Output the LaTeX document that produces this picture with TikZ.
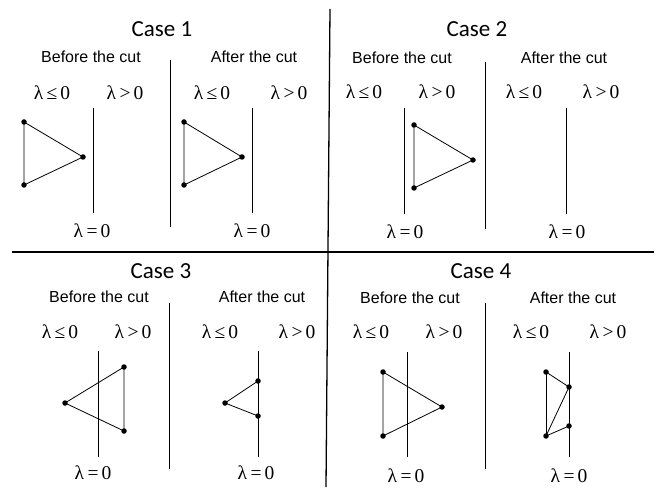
\documentclass[tikz,border=0pt]{standalone}
\usepackage{fontspec}
\newfontfamily\casefont{Carlito}
\newfontfamily\headfont{Liberation Sans}
\newfontfamily\lamfont{Liberation Serif}
\newcommand{\LE}{λ\hspace{3.5pt}≤\hspace{3pt}0}
\newcommand{\GT}{λ\hspace{3.5pt}>\hspace{3pt}0}
\newcommand{\EQ}{λ\hspace{3.5pt}=\hspace{3pt}0}
\begin{document}
\begin{tikzpicture}[x=1pt,y=-1pt,
  casetitle/.style={anchor=base,inner sep=0pt,font=\casefont\fontsize{23}{26}\selectfont},
  head/.style={anchor=base,inner sep=0pt,font=\headfont\fontsize{16}{18}\selectfont},
  lam/.style={anchor=base,inner sep=0pt,font=\lamfont\fontsize{19.5}{22}\selectfont},
  dot/.style={circle,fill=black,inner sep=0pt,minimum size=5.5pt},
  edge/.style={line width=0.8pt},
  zero/.style={line width=0.8pt},
  divider/.style={line width=0.8pt},
  main/.style={line width=1.3pt}]
\useasboundingbox (0,0) rectangle (656,489);
% main dividers
\coordinate (vt) at (330,9); \coordinate (vb) at (326,487);
\coordinate (hl) at (12,252); \coordinate (hr) at (654,252);
\draw[main] (vt) -- (vb);
\draw[main] (hl) -- (hr);

% ================= Case 1
\node[casetitle] (t1) at (162,37) {Case 1};
\node[head] (b1) at (91,63) {Before the cut};
\node[head] (a1) at (254,63) {After the cut};
\coordinate (d1t) at (170,60); \coordinate (d1b) at (170,227);
\draw[divider] (d1t) -- (d1b);
\node[lam] (l1a) at (52,100) {\LE};
\node[lam] (g1a) at (125,100) {\GT};
\node[lam] (e1a) at (92,238) {\EQ};
\coordinate (z1at) at (93,108); \coordinate (z1ab) at (93,213);
\draw[zero] (z1at) -- (z1ab);
\node[dot] (p1a) at (24,122) {};
\node[dot] (q1a) at (24,185) {};
\node[dot] (r1a) at (83,157) {};
\draw[edge] (p1a.center) -- (q1a.center) -- (r1a.center) -- cycle;
\node[lam] (l1b) at (212,100) {\LE};
\node[lam] (g1b) at (289,100) {\GT};
\node[lam] (e1b) at (252,238) {\EQ};
\coordinate (z1bt) at (252,108); \coordinate (z1bb) at (252,213);
\draw[zero] (z1bt) -- (z1bb);
\node[dot] (p1b) at (184,122) {};
\node[dot] (q1b) at (184,185) {};
\node[dot] (r1b) at (242,157) {};
\draw[edge] (p1b.center) -- (q1b.center) -- (r1b.center) -- cycle;

% ================= Case 2
\node[casetitle] (t2) at (477,37) {Case 2};
\node[head] (b2) at (402,64) {Before the cut};
\node[head] (a2) at (564,64) {After the cut};
\coordinate (d2t) at (485,62); \coordinate (d2b) at (485,229);
\draw[divider] (d2t) -- (d2b);
\node[lam] (l2a) at (364,99) {\LE};
\node[lam] (g2a) at (437,99) {\GT};
\node[lam] (e2a) at (405,239) {\EQ};
\coordinate (z2at) at (404,108); \coordinate (z2ab) at (404,214);
\draw[zero] (z2at) -- (z2ab);
\node[dot] (p2a) at (414,125) {};
\node[dot] (q2a) at (414,188) {};
\node[dot] (r2a) at (473,160) {};
\draw[edge] (p2a.center) -- (q2a.center) -- (r2a.center) -- cycle;
\node[lam] (l2b) at (524,99) {\LE};
\node[lam] (g2b) at (601,99) {\GT};
\node[lam] (e2b) at (567,239) {\EQ};
\coordinate (z2bt) at (566,108); \coordinate (z2bb) at (566,214);
\draw[zero] (z2bt) -- (z2bb);

% ================= Case 3
\node[casetitle] (t3) at (161,278) {Case 3};
\node[head] (b3) at (99,302) {Before the cut};
\node[head] (a3) at (262,302) {After the cut};
\coordinate (d3t) at (169,303); \coordinate (d3b) at (169,469);
\draw[divider] (d3t) -- (d3b);
\node[lam] (l3a) at (60,338) {\LE};
\node[lam] (g3a) at (133,338) {\GT};
\node[lam] (e3a) at (93,479) {\EQ};
\coordinate (z3at) at (98,351); \coordinate (z3ab) at (98,457);
\draw[zero] (z3at) -- (z3ab);
\node[dot] (p3a) at (65,403) {};
\node[dot] (q3a) at (124,367) {};
\node[dot] (r3a) at (124,431) {};
\draw[edge] (p3a.center) -- (q3a.center) -- (r3a.center) -- cycle;
\node[lam] (l3b) at (220,338) {\LE};
\node[lam] (g3b) at (297,338) {\GT};
\node[lam] (e3b) at (256,479) {\EQ};
\coordinate (z3bt) at (258,351); \coordinate (z3bb) at (258,457);
\draw[zero] (z3bt) -- (z3bb);
\node[dot] (p3b) at (225,403) {};
\node[dot] (q3b) at (258,381) {};
\node[dot] (r3b) at (258,416) {};
\draw[edge] (q3b.center) -- (p3b.center) -- (r3b.center);

% ================= Case 4
\node[casetitle] (t4) at (481,279) {Case 4};
\node[head] (b4) at (410,303) {Before the cut};
\node[head] (a4) at (573,303) {After the cut};
\coordinate (d4t) at (485,303); \coordinate (d4b) at (485,469);
\draw[divider] (d4t) -- (d4b);
\node[lam] (l4a) at (371,338) {\LE};
\node[lam] (g4a) at (444,338) {\GT};
\node[lam] (e4a) at (406,482) {\EQ};
\coordinate (z4at) at (407,352); \coordinate (z4ab) at (407,457);
\draw[zero] (z4at) -- (z4ab);
\node[dot] (p4a) at (383,372) {};
\node[dot] (q4a) at (383,436) {};
\node[dot] (r4a) at (442,407) {};
\draw[edge] (p4a.center) -- (q4a.center) -- (r4a.center) -- cycle;
\node[lam] (l4b) at (531,338) {\LE};
\node[lam] (g4b) at (608,338) {\GT};
\node[lam] (e4b) at (569,482) {\EQ};
\coordinate (z4bt) at (569,352); \coordinate (z4bb) at (569,457);
\draw[zero] (z4bt) -- (z4bb);
\node[dot] (p4b) at (546,372) {};
\node[dot] (q4b) at (546,436) {};
\node[dot] (s4b) at (569,387) {};
\node[dot] (u4b) at (569,426) {};
\draw[edge] (p4b.center) -- (s4b.center) -- (q4b.center) -- (u4b.center);
\draw[edge] (p4b.center) -- (q4b.center);
\end{tikzpicture}
\end{document}
